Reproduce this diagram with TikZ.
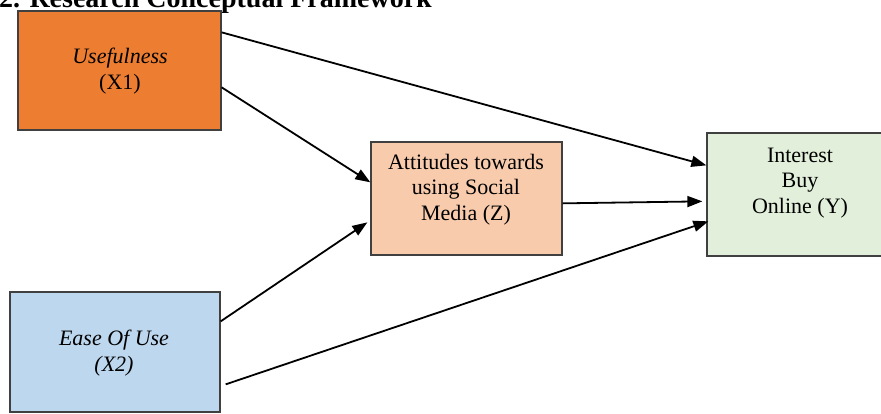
\documentclass[tikz,border=0pt]{standalone}
\usepackage{fontspec}
\setmainfont{Liberation Serif}
\usetikzlibrary{arrows.meta}
\definecolor{orangebox}{HTML}{ED7D31}
\definecolor{peachbox}{HTML}{F8CBAD}
\definecolor{greenbox}{HTML}{E2EFDA}
\definecolor{bluebox}{HTML}{BDD7EE}
\definecolor{boxline}{HTML}{404040}
\begin{document}
\begin{tikzpicture}[x=1pt,y=-1pt,
  box/.style={draw=boxline,line width=1.3pt,inner sep=0pt},
  lbl/.style={inner sep=0pt,align=center,font=\fontsize{22}{25.5}\selectfont,anchor=north},
  arr/.style={line width=1.8pt,-{Triangle[length=15pt,width=11pt]}}]
\useasboundingbox (0,0) rectangle (881,413);
% title (cut at top)
\node[inner sep=0pt,anchor=base east,font=\fontsize{28}{32}\bfseries\selectfont] (title) at (432,7) {Figure2. Research Conceptual Framework};
% boxes
\node[box,fill=orangebox,minimum width=203pt,minimum height=119pt] (u) at (119.5,70.5) {};
\node[box,fill=peachbox,minimum width=191pt,minimum height=113pt] (a) at (466.5,198.5) {};
\node[box,fill=greenbox,minimum width=186pt,minimum height=123pt] (i) at (800,194.5) {};
\node[box,fill=bluebox,minimum width=210pt,minimum height=120pt] (e) at (115,352) {};
% labels
\node[lbl] (ut) at (120,48) {\textit{Usefulness}\\(X1)};
\node[lbl] (at) at (466,154) {Attitudes towards\\using Social\\Media (Z)};
\node[lbl] (it) at (800,147.5) {Interest\\Buy\\Online (Y)};
\node[lbl] (et) at (114,330) {\textit{Ease Of Use}\\\textit{(X2)}};
% connectors
\draw[arr] ([yshift=-22pt]u.north east) -- ([yshift=-33pt]i.north west);
\draw[arr] ([yshift=-77pt]u.north east) -- ([yshift=-41pt]a.north west);
\draw[arr] ([yshift=-30pt]e.north east) -- ([xshift=-3pt,yshift=-81pt]a.north west);
\draw[arr] ([xshift=5pt,yshift=-93pt]e.north east) -- ([xshift=2pt,yshift=-89pt]i.north west);
\draw[arr] ([yshift=-62pt]a.north east) -- ([xshift=-4pt,yshift=-69pt]i.north west);
\end{tikzpicture}
\end{document}
